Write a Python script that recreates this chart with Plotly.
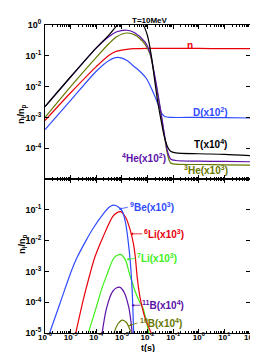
import plotly.graph_objects as go

# ---------- data (log10 t, log10 n_i/n_p) ----------
# top panel
T_lt = [-6, -5, -4, -3.5, -3.17, -3.0, -2.6, -2.3, -2.17, -2.0, -1.85, -1.72, -1.6, -1.47, -1.35, -1.22, -1.1, -0.9, 0, 1, 2]
T_ly = [-2.65, -1.68, -0.74, -0.32, 0.0, 0.1, 0.15, 0.08, 0.0, -0.35, -1.0, -1.8, -2.5, -3.1, -3.6, -3.95, -4.1, -4.15, -4.18, -4.2, -4.24]

He4_lt = [-6, -5, -4, -3.5, -3.2, -2.8, -2.5, -2.1, -1.9, -1.75, -1.6, -1.47, -1.35, -1.22, -1.1, -0.9, 0, 1, 2]
He4_ly = [-2.65, -1.69, -0.75, -0.37, -0.22, -0.17, -0.25, -0.55, -0.9, -1.5, -2.2, -2.86, -3.5, -4.1, -4.35, -4.4, -4.42, -4.43, -4.44]

He3_lt = [-6, -5, -4, -3.5, -3.2, -2.8, -2.5, -2.1, -1.9, -1.75, -1.6, -1.47, -1.35, -1.22, -1.1, -0.9, 0, 1, 2]
He3_ly = [-3.0, -2.0, -1.05, -0.6, -0.38, -0.26, -0.32, -0.62, -0.95, -1.55, -2.25, -2.9, -3.55, -4.2, -4.48, -4.52, -4.53, -4.54, -4.55]

n_lt = [-6, -5, -4, -3.5, -3.2, -2.8, -2.5, -2.0, -1.0, 0, 1, 2]
n_ly = [-3.1, -2.2, -1.35, -0.98, -0.85, -0.79, -0.77, -0.76, -0.76, -0.76, -0.77, -0.77]

D_lt = [-6, -5, -4, -3.5, -3.17, -2.8, -2.55, -2.3, -2.05, -1.85, -1.68, -1.5, -1.42, -1.3, -1.1, 0, 1, 2]
D_ly = [-3.4, -2.45, -1.5, -1.15, -1.05, -1.15, -1.33, -1.5, -1.73, -2.05, -2.38, -2.75, -2.9, -2.98, -3.0, -3.0, -3.01, -3.02]

# bottom panel
Be9_lt = [-5.82, -5.4, -5.0, -4.75, -4.4, -4.12, -3.74, -3.5, -3.34, -3.15, -2.98, -2.85, -2.75, -2.67, -2.6, -2.54, -2.5]
Be9_ly = [-5.0, -4.0, -3.05, -2.55, -2.0, -1.6, -1.15, -0.92, -0.85, -0.9, -1.05, -1.45, -2.05, -2.7, -3.6, -5.0, -6.0]

Li6_lt = [-4.8, -4.5, -4.25, -4.06, -3.74, -3.36, -3.2, -3.05, -2.85, -2.67, -2.55, -2.48, -2.4, -2.3, -2.1, -1.86, -1.75]
Li6_ly = [-5.0, -3.9, -3.1, -2.55, -1.89, -1.22, -1.1, -1.06, -1.25, -1.67, -2.1, -2.5, -3.2, -3.8, -4.5, -5.0, -5.3]

Li7_lt = [-4.31, -4.0, -3.8, -3.61, -3.3, -3.05, -2.85, -2.73, -2.6, -2.48, -2.3, -2.17, -2.05, -1.95, -1.85]
Li7_ly = [-5.0, -4.17, -3.6, -3.17, -2.55, -2.45, -2.65, -3.0, -3.35, -3.65, -4.0, -4.2, -4.6, -5.0, -5.4]

B11_lt = [-3.77, -3.6, -3.36, -3.2, -3.07, -2.9, -2.73, -2.65, -2.6, -2.56]
B11_ly = [-5.0, -4.2, -3.65, -3.53, -3.52, -3.7, -4.17, -4.6, -5.0, -5.4]

B10_lt = [-3.31, -3.15, -2.98, -2.82, -2.68, -2.62, -2.58]
B10_ly = [-5.0, -4.7, -4.58, -4.66, -4.9, -5.0, -5.2]

top_ticks = [0, -1, -2, -3, -4]
bot_ticks = [-1, -2, -3, -4, -5]
x_ticks = [-6, -5, -4, -3, -2, -1, 0, 1, 2]

# ---------- styling ----------
FONT = "Liberation Sans"
C_RED = "#e8000b"
C_BLUE = "#2f4bff"
C_OLIVE = "#667800"
C_PURPLE = "#5b10a8"
C_BLACK = "#000000"
C_GREEN = "#3ef01a"


def p(v):
    return [10 ** a for a in v]


def sup(e):
    return "<b>10<sup>%d</sup></b>" % e


fig = go.Figure()

top_series = [
    (n_lt, n_ly, C_RED),
    (D_lt, D_ly, C_BLUE),
    (He3_lt, He3_ly, C_OLIVE),
    (He4_lt, He4_ly, C_PURPLE),
    (T_lt, T_ly, C_BLACK),
]
for lt, ly, c in top_series:
    fig.add_trace(go.Scatter(x=p(lt), y=p(ly), mode="lines", xaxis="x2", yaxis="y2",
                             line=dict(color=c, width=1.2, shape="spline", smoothing=0.8),
                             showlegend=False, hoverinfo="skip"))

bot_series = [
    (B10_lt, B10_ly, C_OLIVE),
    (B11_lt, B11_ly, C_PURPLE),
    (Li7_lt, Li7_ly, C_GREEN),
    (Li6_lt, Li6_ly, C_RED),
    (Be9_lt, Be9_ly, C_BLUE),
]
for lt, ly, c in bot_series:
    fig.add_trace(go.Scatter(x=p(lt), y=p(ly), mode="lines", xaxis="x", yaxis="y",
                             line=dict(color=c, width=1.2, shape="spline", smoothing=0.8),
                             showlegend=False, hoverinfo="skip"))

axis_common = dict(type="log", showgrid=False, zeroline=False, showline=True, linecolor="black",
                   linewidth=1, mirror="ticks", ticks="inside", ticklen=4, tickcolor="black",
                   tickfont=dict(family=FONT, size=9, color="black"))

xminor = dict(ticks="inside", ticklen=2, tickcolor="black", showgrid=False, dtick="D1")

fig.update_layout(
    width=258, height=352,
    margin=dict(l=37, r=10, t=17, b=27),
    paper_bgcolor="white", plot_bgcolor="white",
    xaxis=dict(axis_common, domain=[0, 1], anchor="y", range=[-6, 2],
               tickmode="array", tickvals=p(x_ticks), ticktext=[sup(e) for e in x_ticks],
               tickfont=dict(family=FONT, size=8, color="black"),
               ticklabelstandoff=-4, minor=xminor),
    xaxis2=dict(axis_common, domain=[0, 1], anchor="y2", range=[-6, 2], matches="x",
                tickmode="array", tickvals=p(x_ticks),
                showticklabels=False, minor=xminor),
    yaxis=dict(axis_common, domain=[0, 0.5], anchor="x", range=[-5, 0],
               tickmode="array", tickvals=p(bot_ticks), ticktext=[sup(e) for e in bot_ticks],
               ticklabelstandoff=1),
    yaxis2=dict(axis_common, domain=[0.5, 1], anchor="x2", range=[-5, 0],
                tickmode="array", tickvals=p(top_ticks), ticktext=[sup(e) for e in top_ticks],
                ticklabelstandoff=1),
)

ann = []
# title
ann.append(dict(text="<b>T=10MeV</b>", xref="paper", yref="paper", x=0.512, y=1.037,
                showarrow=False, font=dict(family=FONT, size=8, color="black")))
# axis titles
for yy in (0.747, 0.25):
    ann.append(dict(text="<b>n<sub>i</sub>/n<sub>p</sub></b>", xref="paper", yref="paper", x=-0.15, y=yy,
                    textangle=-90, showarrow=False, font=dict(family=FONT, size=9, color="black")))
ann.append(dict(text="<b>t(s)</b>", xref="paper", yref="paper", x=0.503, y=-0.07,
                showarrow=False, font=dict(family=FONT, size=9, color="black")))

# top labels (log t, log y)
top_labels = [
    ("<b>n</b>", -0.36, -0.66, C_RED),
    ("<b>D(x10<sup>2</sup>)</b>", 0.44, -2.81, C_BLUE),
    ("<b>T(x10<sup>4</sup>)</b>", 0.46, -3.87, C_BLACK),
    ("<b><sup>4</sup>He(x10<sup>2</sup>)</b>", -2.14, -4.33, C_PURPLE),
    ("<b><sup>3</sup>He(x10<sup>3</sup>)</b>", 0.29, -4.72, C_OLIVE),
]
for t, lx, ly, c in top_labels:
    ann.append(dict(text=t, xref="x2", yref="y2", x=lx, y=ly, showarrow=False,
                    font=dict(family=FONT, size=10, color=c)))

# bottom labels with arrows: text, head (log t, log y), ax px, ay px, color
bot_labels = [
    ("<b><sup>9</sup>Be(x10<sup>3</sup>)</b>", -3.12, -0.98, 9, -2, C_BLUE),
    ("<b><sup>6</sup>Li(x10<sup>3</sup>)</b>", -2.67, -1.78, 12, 0, C_RED),
    ("<b><sup>7</sup>Li(x10<sup>3</sup>)</b>", -2.82, -2.61, 9, -1, C_GREEN),
    ("<b><sup>11</sup>B(x10<sup>4</sup>)</b>", -2.63, -4.1, 9, 0, C_PURPLE),
    ("<b><sup>10</sup>B(x10<sup>4</sup>)</b>", -2.74, -4.77, 9, -3, C_OLIVE),
]
for t, hx, hy, ax, ay, c in bot_labels:
    ann.append(dict(text=t, xref="x", yref="y", x=hx, y=hy, ax=ax, ay=ay,
                    axref="pixel", ayref="pixel", xanchor="left", showarrow=True,
                    arrowhead=2, arrowsize=0.7, arrowwidth=0.8, arrowcolor=c,
                    font=dict(family=FONT, size=10, color=c)))

fig.update_layout(annotations=ann)
fig.write_html("out.html")
